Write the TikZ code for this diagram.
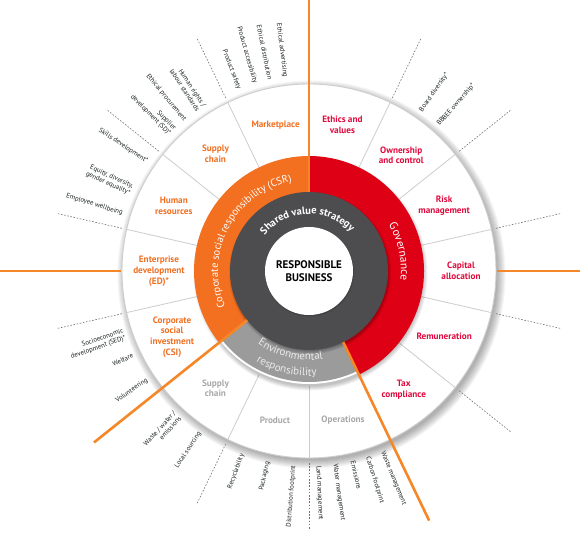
\documentclass[tikz,border=0pt]{standalone}
\usepackage{fontspec}
\setmainfont{PT Sans}
\usetikzlibrary{decorations.text}
\definecolor{corange}{RGB}{243,112,33}
\definecolor{cline}{RGB}{245,135,40}
\definecolor{cred}{RGB}{222,0,20}
\definecolor{cdark}{RGB}{77,77,79}
\definecolor{cenv}{RGB}{155,155,155}
\definecolor{corlab}{RGB}{240,112,35}
\definecolor{credlab}{RGB}{225,10,60}
\definecolor{cgrlab}{RGB}{168,168,168}
\definecolor{ctxt}{RGB}{25,35,30}
\definecolor{csep}{RGB}{205,205,205}
\begin{document}
\begin{tikzpicture}[x=1pt,y=1pt,
  seglab/.style={font=\fontsize{9.2}{10.8}\selectfont\bfseries, align=center, inner sep=0pt},
  orl/.style={seglab, text=corlab},
  rdl/.style={seglab, text=credlab},
  gyl/.style={seglab, text=cgrlab},
  olab/.style={font=\fontsize{6.8}{7.6}\selectfont, text=ctxt, inner sep=1pt},
  olL/.style={olab, anchor=east, align=right, rotate=#1+180},
  olR/.style={olab, anchor=west, align=left, rotate=#1},
  bigline/.style={cline, line width=2.6pt},
  dline/.style={black!55, line width=0.6pt, dash pattern=on 1.6pt off 1.6pt},
  sepline/.style={csep, line width=0.8pt}]
\useasboundingbox (-309,-269) rectangle (271,271);
\coordinate (O) at (0,0);
% outer shadow
\foreach \i in {0,...,8} \fill[black, opacity=0.04] (2.5,-3.5) circle (186+\i);
% outer white ring
\fill[white] (O) circle (187);
\draw[csep, line width=0.9pt] (O) circle (187);
% separators
\foreach \k in {0,...,13} \draw[sepline] (90+\k*360/14:115) -- (90+\k*360/14:187);
% shadow of coloured ring
\foreach \i in {0,...,4} \fill[black, opacity=0.05] (1.5,-2.5) circle (113+\i);
% coloured sectors
\fill[corange] (O) -- (90:115) arc[start angle=90, end angle=218.57, radius=115] -- cycle;
\fill[cred] (O) -- (-64.29:115) arc[start angle=-64.29, end angle=90, radius=115] -- cycle;
\fill[white] (O) -- (218.57:113) arc[start angle=218.57, end angle=295.71, radius=113] -- cycle;
\fill[cenv] (O) -- (218.57:111) arc[start angle=218.57, end angle=295.71, radius=111] -- cycle;
% dark ring
\foreach \i in {0,...,3} \fill[black, opacity=0.08] (1,-2) circle (78+\i);
\fill[cdark] (O) circle (79);
\fill[black, opacity=0.15] (0.5,-1) circle (44.5);
\fill[white] (O) circle (44);
% orange lines
\draw[bigline] (90:79) -- (90:275);
\draw[bigline] (218.57:79) -- (218.57:275);
\draw[bigline] (295.71:79) -- (295.71:277);
\draw[bigline] (0:188) -- (0:275);
\draw[bigline] (180:188) -- (180:312);
% dashed lines
\foreach \a in {115.71,141.43,167.14,192.86,244.29,270,321.43,347.14,12.86,38.57,64.29}
  \draw[dline] (\a:192) -- (\a:258);
% centre
\node[font=\fontsize{11}{12.5}\selectfont\bfseries, align=center] (core) at (O) {RESPONSIBLE\\BUSINESS};
\path[decorate, decoration={text along path, text align=center,
  text={|\fontsize{10.5}{13}\selectfont\bfseries\color{white}|Shared value strategy}}]
  (182:57) arc[start angle=182, end angle=2, radius=57];
\path[decorate, decoration={text along path, text align=center,
  text={|\fontsize{10.5}{12}\selectfont\color{white}|Corporate social responsibility (CSR)}}]
  (232:91) arc[start angle=232, end angle=72, radius=91];
\path[decorate, decoration={text along path, text align=center,
  text={|\fontsize{11.5}{13}\selectfont\color{white}|Governance}}]
  (62:92) arc[start angle=62, end angle=-38, radius=92];
\path[decorate, decoration={text along path, text align=center,
  text={|\fontsize{11}{13}\selectfont\color{black!8}|Environmental}}]
  (207:89) arc[start angle=207, end angle=307, radius=89];
\path[decorate, decoration={text along path, text align=center,
  text={|\fontsize{11}{13}\selectfont\color{black!8}|responsibility}}]
  (207:105) arc[start angle=207, end angle=307, radius=105];
% segment labels
\node[orl] (s1) at (102.86:150) {Marketplace};
\node[orl] (s2) at (128.57:150) {Supply\\chain};
\node[orl] (s3) at (154.29:150) {Human\\resources};
\node[orl] (s4) at (180:150) {Enterprise\\development\\(ED)*};
\node[orl] (s5) at (205.71:152) {Corporate\\social\\investment\\(CSI)};
\node[gyl] (s6) at (231.43:150) {Supply\\chain};
\node[gyl] (s7) at (257.14:153) {Product};
\node[gyl] (s8) at (282.86:153) {Operations};
\node[rdl] (s9) at (77.14:150) {Ethics and\\values};
\node[rdl] (s10) at (51.43:148) {Ownership\\and control};
\node[rdl] (s11) at (25.71:150) {Risk\\management};
\node[rdl] (s12) at (0:152) {Capital\\allocation};
\node[rdl] (s13) at (-25.71:150) {Remuneration};
\node[rdl] (s14) at (-51.43:152) {Tax\\compliance};
% outer labels, left half
\node[olL=97] (o1) at (97:194) {Ethical advertising};
\node[olL=101.5] (o2) at (101.5:194) {Ethical distribution};
\node[olL=106] (o3) at (106:194) {Product accessibility};
\node[olL=111] (o4) at (111:194) {Product safety};
\node[olL=123.5] (o5) at (123.5:194) {Human rights /\\labour standards};
\node[olL=129.5] (o6) at (129.5:194) {Ethical procurement};
\node[olL=134.5] (o7) at (134.5:194) {Supplier\\development (SD)*};
\node[olL=146] (o8) at (146:194) {Skills development*};
\node[olL=155.5] (o9) at (155.5:194) {Equity, diversity,\\gender equality*};
\node[olL=162.8] (o10) at (162.8:194) {Employee wellbeing};
\node[olL=199] (o11) at (199:194) {Socioeconomic\\development (SED)*};
\node[olL=205.5] (o12) at (205.5:194) {Welfare};
\node[olL=214] (o13) at (214:194) {Volunteering};
\node[olL=227.5] (o14) at (227.5:194) {Waste / water /\\emissions};
\node[olL=236] (o15) at (236:194) {Local sourcing};
\node[olL=250] (o16) at (250:194) {Recyclability};
\node[olL=257.8] (o17) at (257.8:194) {Packaging};
\node[olL=265.5] (o18) at (265.5:194) {Distribution footprint};
% outer labels, right half
\node[olR=55] (o19) at (55:194) {Board diversity*};
\node[olR=48.5] (o20) at (48.5:194) {BBBEE ownership*};
\node[olR=272.7] (o21) at (272.7:194) {Land management};
\node[olR=277.7] (o22) at (277.7:194) {Water management};
\node[olR=283] (o23) at (283:194) {Emissions};
\node[olR=287.5] (o24) at (287.5:194) {Carbon footprint};
\node[olR=292.2] (o25) at (292.2:194) {Waste management};
\end{tikzpicture}
\end{document}
